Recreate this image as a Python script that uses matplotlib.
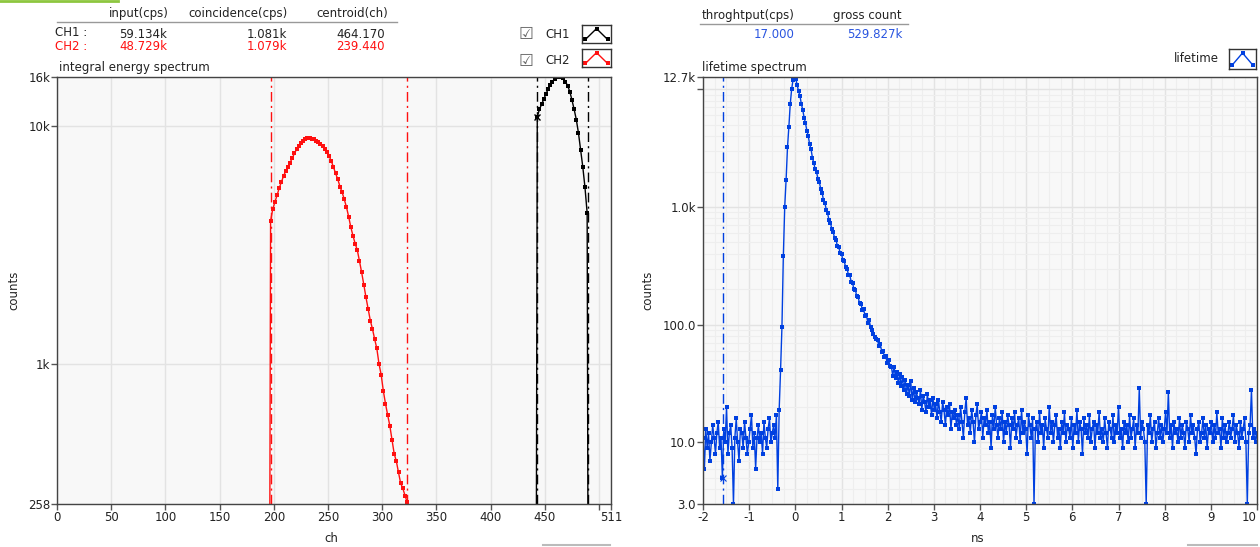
import numpy as np
import matplotlib.pyplot as plt
from matplotlib.lines import Line2D
from matplotlib.ticker import NullLocator, FixedLocator, MultipleLocator, LogLocator

W, H = 1260, 547

# ---- integral energy spectrum (2 channel steps, 1 = empty channel outside ROI)
ch2_start = 195
ch2_counts = [1, 3980, 4460, 4780, 5100, 5480, 5800, 6150, 6450, 6700, 7000,
              7300, 7650, 7950, 8250, 8450, 8650, 8800, 8850, 8850, 8800,
              8750, 8650, 8550, 8400, 8200, 7950, 7750, 7450, 7100, 6700,
              6300, 5950, 5550, 5250, 4900, 4550, 4150, 3750, 3450, 3200,
              3000, 2700, 2420, 2150, 1900, 1700, 1520, 1400, 1270, 1160,
              1000, 900, 770, 680, 610, 550, 480, 420, 390, 350,
              315, 300, 280, 262, 1]
ch1_start = 441
ch1_counts = [1, 10900, 11700, 12300, 12900, 13600, 14200, 14800, 15300, 15700,
              16000, 16100, 16000, 15800, 15300, 14700, 13900, 12800, 11700,
              10600, 9300, 7900, 6700, 5500, 4300, 1]
roi_ch1 = [443, 490]
roi_ch2 = [197, 323]

# ---- lifetime spectrum (0.03 ns bins starting at -2 ns)
life_start = -2.0
life_step = 0.03
life_counts = [
    11, 6, 13, 9, 12, 7, 10, 14, 11, 8,
    12, 15, 9, 11, 5, 13, 10, 20, 8, 12,
    14, 9, 3, 11, 16, 10, 7, 13, 12, 9,
    15, 11, 8, 10, 13, 17, 9, 12, 6, 11,
    14, 10, 12, 8, 15, 11, 9, 13, 16, 10,
    12, 14, 11, 17, 4,
    19, 41, 96, 380, 1000, 1700, 3200, 4800, 7500, 10000, 12000, 12700,
    12300, 10900, 9600, 8800, 7500, 6700, 5750, 5150, 4450, 4000,
    3400, 3100, 2620, 2360, 2090, 1980, 1730, 1630, 1420, 1320,
    1140, 1080, 950, 880, 770, 735, 650, 610, 545, 525,
    470, 455, 410, 398, 355, 345, 308, 300, 265, 262,
    232, 226, 200, 198, 174, 172, 152, 151, 134, 135,
    118, 121, 104, 109, 95, 90, 84, 79, 75, 74,
    66, 69, 59, 60, 53, 54, 47, 50, 45, 44,
    37, 44, 35, 40, 32, 38, 30, 36, 28, 34,
    26, 31, 25, 33, 23, 29, 22, 27, 24, 21,
    28, 19, 25, 22, 18, 26, 20, 23, 17, 24,
    19, 21, 16, 23, 18, 15, 22, 19, 14, 20,
    17, 21, 13, 18, 16, 19, 14,
    17, 13, 20, 15, 11, 18, 24, 14, 16, 12, 19, 15, 10, 17, 21, 13, 15, 18, 11, 16,
    14, 19, 12, 15, 9, 17, 13, 20, 14, 11, 16, 13, 18, 10, 15, 12, 17, 14, 9, 16,
    13, 18, 11, 14, 16, 10, 19, 12, 15, 13, 8, 17, 14, 11, 16, 3, 13, 15, 10, 18,
    12, 14, 9, 16, 13, 11, 20, 12, 15, 10, 14, 17, 11, 13, 9, 15, 12, 18, 10, 14,
    13, 11, 16, 9, 14, 12, 19, 10, 15, 13, 8, 16, 12, 14, 11, 17, 10, 13, 15, 9,
    14, 12, 18, 11, 13, 10, 16, 12, 9, 15, 13, 11, 17, 10, 14, 12, 20, 11, 13, 9,
    15, 12, 14, 10, 17, 11, 13, 16, 9, 14, 12, 29, 11, 15, 13, 10, 3, 14, 12, 17,
    10, 13, 15, 9, 12, 16, 11, 14, 10, 13, 18, 12, 27, 11, 14, 9, 15, 12, 13, 10,
    16, 11, 14, 12, 9, 15, 13, 10, 17, 12, 14, 11, 8, 13, 15, 10, 12, 16, 11, 14,
    9, 13, 12, 15, 10, 14, 11, 18, 12, 13, 9, 16, 11, 14, 10, 12, 15, 11, 13, 17,
    10, 14, 12, 9, 15, 11, 13, 16, 10, 3, 12, 14, 28, 11, 13, 10, 12]
cursor_ns = -1.57
cursor_counts = 5

# ---- ticks / header texts
e_xticks = [0, 50, 100, 150, 200, 250, 300, 350, 400, 450, 500, 511]
e_xticklabels = ['0', '50', '100', '150', '200', '250', '300', '350', '400', '450', '', '511']
e_yticks = [258, 1000, 10000, 16000]
e_yticklabels = ['258', '1k', '10k', '16k']
l_xticks = list(range(-2, 11))
l_yticks = [3, 10, 100, 1000, 10000, 12700]
l_yticklabels = ['3.0', '10.0', '100.0', '1.0k', '', '12.7k']

header_cols = ['input(cps)', 'coincidence(cps)', 'centroid(ch)']
ch1_row = ['59.134k', '1.081k', '464.170']
ch2_row = ['48.729k', '1.079k', '239.440']
life_cols = ['throghtput(cps)', 'gross count']
life_row = ['17.000', '529.827k']

RED = '#ff1010'
BLUE = '#0040e0'
FS = 8.5
MS = 3.0

fig = plt.figure(figsize=(W / 100, H / 100), dpi=100)


def fx(x):
    return x / W


def fy(y):
    return 1 - y / H


def txt(x, y, s, ha='left', color='#222222', size=FS, **kw):
    fig.text(fx(x), fy(y), s, ha=ha, va='center', color=color, fontsize=size, **kw)


def style(ax):
    ax.set_facecolor('#f8f8f8')
    for s in ax.spines.values():
        s.set_color('#444444')
        s.set_linewidth(1)
    ax.tick_params(direction='out', length=4, width=1, color='#555555',
                   labelsize=FS, pad=1, labelcolor='#222222')
    ax.tick_params(which='minor', length=0)
    ax.grid(True, which='major', color='#e3e3e3', lw=1)
    ax.set_axisbelow(True)


dashdot = (0, (7, 3, 1.5, 3))

# ---- left: energy spectrum
ax1 = fig.add_axes([fx(57), fy(504), fx(611 - 57), (504 - 77) / H])
style(ax1)
ax1.set_yscale('log')
for c in roi_ch2:
    ax1.axvline(c, color=RED, lw=1, ls=dashdot)
for c in roi_ch1:
    ax1.axvline(c, color='black', lw=1, ls=dashdot)
x2 = ch2_start + 2 * np.arange(len(ch2_counts))
x1 = ch1_start + 2 * np.arange(len(ch1_counts))
ax1.plot(x2, ch2_counts, color=RED, lw=1, marker='s', ms=MS, mew=0)
ax1.plot(x1, ch1_counts, color='black', lw=1, marker='s', ms=MS, mew=0)
ax1.plot(x1[1], ch1_counts[1], marker='x', color='black', ms=5, mew=1)
ax1.set_xlim(0, 511)
ax1.set_ylim(258, 16000)
ax1.xaxis.set_major_locator(FixedLocator(e_xticks))
ax1.set_xticklabels(e_xticklabels)
ax1.yaxis.set_major_locator(FixedLocator(e_yticks))
ax1.set_yticklabels(e_yticklabels)
ax1.yaxis.set_minor_locator(NullLocator())

# ---- right: lifetime spectrum
ax2 = fig.add_axes([fx(703), fy(504), fx(1257 - 703), (504 - 77) / H])
style(ax2)
ax2.set_yscale('log')
ax2.xaxis.set_minor_locator(MultipleLocator(0.25))
ax2.yaxis.set_minor_locator(LogLocator(base=10, subs=np.arange(2, 10)))
ax2.grid(True, which='minor', color='#eeeeee', lw=0.8)
ax2.axvline(cursor_ns, color=BLUE, lw=1, ls=dashdot)
xl = life_start + life_step * np.arange(len(life_counts))
ax2.plot(xl, life_counts, color=BLUE, lw=1, marker='s', ms=MS, mew=0)
ax2.plot(cursor_ns, cursor_counts, marker='x', color=BLUE, ms=4, mew=0.8)
ax2.set_xlim(-2, 10)
ax2.set_ylim(3, 12700)
ax2.xaxis.set_major_locator(FixedLocator(l_xticks))
ax2.set_xticklabels([str(v) for v in l_xticks])
ax2.get_xticklabels()[-1].set_horizontalalignment('right')
ax2.yaxis.set_major_locator(FixedLocator(l_yticks))
ax2.set_yticklabels(l_yticklabels)
ax2.tick_params(axis='y', which='minor', length=0)

# ---- axis titles
fig.text(fx(14), fy(290), 'counts', rotation=90, ha='center', va='center', fontsize=FS, color='#222222')
fig.text(fx(648), fy(290), 'counts', rotation=90, ha='center', va='center', fontsize=FS, color='#222222')
txt(331, 538, 'ch', ha='center')
txt(978, 538, 'ns', ha='center')
txt(59, 68, 'integral energy spectrum')
txt(702, 67, 'lifetime spectrum')

# ---- left header table
for s, xc in zip(header_cols, [139, 238, 352]):
    txt(xc, 14, s, ha='center')
fig.add_artist(Line2D([fx(57), fx(397)], [fy(22), fy(22)], color='#999999', lw=1))
txt(55, 33, 'CH1 :')
txt(55, 46, 'CH2 :', color=RED)
for s, xr in zip(ch1_row, [167, 287, 385]):
    txt(xr, 34, s, ha='right')
for s, xr in zip(ch2_row, [167, 287, 385]):
    txt(xr, 46, s, ha='right', color=RED)

# ---- right header table
for s, xc in zip(life_cols, [748, 867]):
    txt(xc, 15, s, ha='center')
fig.add_artist(Line2D([fx(700), fx(908)], [fy(24), fy(24)], color='#999999', lw=1))
for s, xr in zip(life_row, [795, 903]):
    txt(xr, 35, s, ha='right', color='#2a55e0')

# ---- legends
txt(526, 34, '\u2611', ha='center', color='#666666', size=12)
txt(526, 61, '\u2611', ha='center', color='#666666', size=12)
txt(545, 34, 'CH1')
txt(545, 61, 'CH2')
txt(1174, 59, 'lifetime')


def glyph(x0, y0, x1, y1, color):
    a = fig.add_axes([fx(x0), fy(y1), fx(x1 - x0), (y1 - y0) / H])
    a.set_xlim(0, 1)
    a.set_ylim(0, 1)
    a.set_xticks([])
    a.set_yticks([])
    a.set_facecolor('white')
    for s in a.spines.values():
        s.set_color('#333333')
        s.set_linewidth(1)
    a.plot([0.12, 0.5, 0.88], [0.2, 0.8, 0.2], color=color, lw=1, marker='s', ms=2.6, mew=0)


glyph(582, 25, 611, 43, 'black')
glyph(582, 49, 611, 67, RED)
glyph(1229, 49, 1256, 69, BLUE)

# window decorations
fig.add_artist(Line2D([0, fx(118)], [fy(1), fy(1)], color='#8dc63f', lw=2))
fig.add_artist(Line2D([fx(543), fx(610)], [fy(545), fy(545)], color='#bbbbbb', lw=1.5))
fig.add_artist(Line2D([fx(1188), fx(1257)], [fy(545), fy(545)], color='#bbbbbb', lw=1.5))

plt.savefig('out.png', dpi=100)
